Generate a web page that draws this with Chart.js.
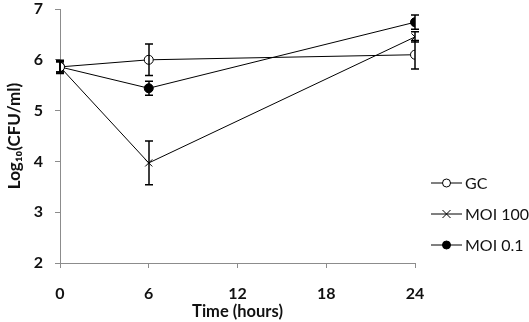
<!DOCTYPE html>
<html>
<head>
<meta charset="utf-8">
<script src="https://cdn.jsdelivr.net/npm/chart.js@4/dist/chart.umd.min.js"></script>
<style>
html,body{margin:0;padding:0;background:#fff;}
#wrap{width:529px;height:322px;position:relative;}
</style>
</head>
<body>
<div id="wrap"><canvas id="c" width="529" height="322"></canvas></div>
<script>
const times = [0, 6, 24];
const gcValues = [5.86, 6.0, 6.1];
const gcErrors = [0.13, 0.31, 0.28];
const moi100Values = [5.86, 3.97, 6.45];
const moi100Errors = [0.1, 0.43, 0.1];
const moi01Values = [5.86, 5.44, 6.74];
const moi01Errors = [0.1, 0.14, 0.14];
const seriesNames = ['GC', 'MOI 100', 'MOI 0.1'];
const xTicks = [0, 6, 12, 18, 24];
const yTicks = [2, 3, 4, 5, 6, 7];

const FONT = 'Lato, "Open Sans", sans-serif';
const AXIS = '#8c8c8c';
const TXT = '#111';

function pts(vals){ return times.map((t,i)=>({x:t,y:vals[i]})); }

const errorBars = {
  id:'errorBars',
  afterDatasetsDraw(chart){
    const ctx = chart.ctx, xs = chart.scales.x, ys = chart.scales.y;
    ctx.save();
    ctx.strokeStyle = '#000';
    ctx.lineWidth = 1.5;
    chart.data.datasets.forEach(ds=>{
      ds.data.forEach((p,i)=>{
        const e = ds.errors[i];
        const x = Math.round(xs.getPixelForValue(p.x));
        const y1 = ys.getPixelForValue(p.y+e), y2 = ys.getPixelForValue(p.y-e);
        ctx.beginPath();
        ctx.moveTo(x, y1); ctx.lineTo(x, y2);
        ctx.moveTo(x-4, y1); ctx.lineTo(x+4, y1);
        ctx.moveTo(x-4, y2); ctx.lineTo(x+4, y2);
        ctx.stroke();
      });
    });
    ctx.restore();
  }
};

const customLegend = {
  id:'customLegend',
  afterDraw(chart){
    const ctx = chart.ctx;
    ctx.save();
    const x0 = 431, x1 = 462, ys = [183, 214, 245];
    chart.data.datasets.forEach((ds,i)=>{
      const y = ys[i];
      ctx.strokeStyle = '#000';
      ctx.lineWidth = 1;
      ctx.beginPath(); ctx.moveTo(x0,y); ctx.lineTo(x1,y); ctx.stroke();
      const cx = (x0+x1)/2;
      if(ds.pointStyle === 'crossRot'){
        ctx.beginPath();
        ctx.moveTo(cx-4,y-4); ctx.lineTo(cx+4,y+4);
        ctx.moveTo(cx+4,y-4); ctx.lineTo(cx-4,y+4);
        ctx.stroke();
      } else {
        ctx.beginPath(); ctx.arc(cx,y,4,0,Math.PI*2);
        ctx.fillStyle = ds.pointBackgroundColor; ctx.fill(); ctx.stroke();
      }
      ctx.fillStyle = TXT;
      ctx.font = '16px ' + FONT;
      ctx.textBaseline = 'middle';
      ctx.fillText(ds.label, x1+3, y+1);
    });
    ctx.restore();
  }
};

new Chart(document.getElementById('c'), {
  type:'line',
  data:{
    datasets:[
      {label:seriesNames[0], data:pts(gcValues), errors:gcErrors, borderColor:'#000', borderWidth:1,
       pointStyle:'circle', pointRadius:4.5, pointBackgroundColor:'#fff', pointBorderColor:'#000', pointBorderWidth:1},
      {label:seriesNames[1], data:pts(moi100Values), errors:moi100Errors, borderColor:'#000', borderWidth:1,
       pointStyle:'crossRot', pointRadius:5, pointBackgroundColor:'#000', pointBorderColor:'#000', pointBorderWidth:1},
      {label:seriesNames[2], data:pts(moi01Values), errors:moi01Errors, borderColor:'#000', borderWidth:1,
       pointStyle:'circle', pointRadius:4.5, pointBackgroundColor:'#000', pointBorderColor:'#000', pointBorderWidth:1}
    ]
  },
  options:{
    responsive:false,
    animation:false,
    layout:{padding:{left:0,right:114,top:9,bottom:0}},
    plugins:{legend:{display:false}, tooltip:{enabled:false}},
    scales:{
      x:{type:'linear', min:0, max:24,
         afterBuildTicks(ax){ ax.ticks = xTicks.map(v=>({value:v})); },
         afterFit(ax){ ax.height = 59; ax.paddingLeft = 0; ax.paddingRight = 0; },
         grid:{drawOnChartArea:false, drawTicks:true, tickLength:5, color:AXIS},
         border:{color:AXIS, width:1},
         ticks:{color:TXT, font:{family:FONT, size:16, weight:'bold'}, padding:16},
         title:{display:true, text:'Time (hours)', color:TXT, font:{family:FONT, size:16.5, weight:'bold'}, padding:{top:0,bottom:0}}
      },
      y:{min:2, max:7,
         afterBuildTicks(ax){ ax.ticks = yTicks.map(v=>({value:v})); },
         afterFit(ax){ ax.width = 60; ax.paddingTop = 0; ax.paddingBottom = 0; },
         grid:{drawOnChartArea:false, drawTicks:true, tickLength:5, color:AXIS},
         border:{color:AXIS, width:1},
         ticks:{color:TXT, font:{family:FONT, size:16, weight:'bold'}, padding:12},
         title:{display:true, text:'Log₁₀(CFU/ml)', color:TXT, font:{family:FONT, size:17, weight:'bold'}, padding:{top:4,bottom:0}}
      }
    }
  },
  plugins:[errorBars, customLegend]
});
</script>
</body>
</html>
